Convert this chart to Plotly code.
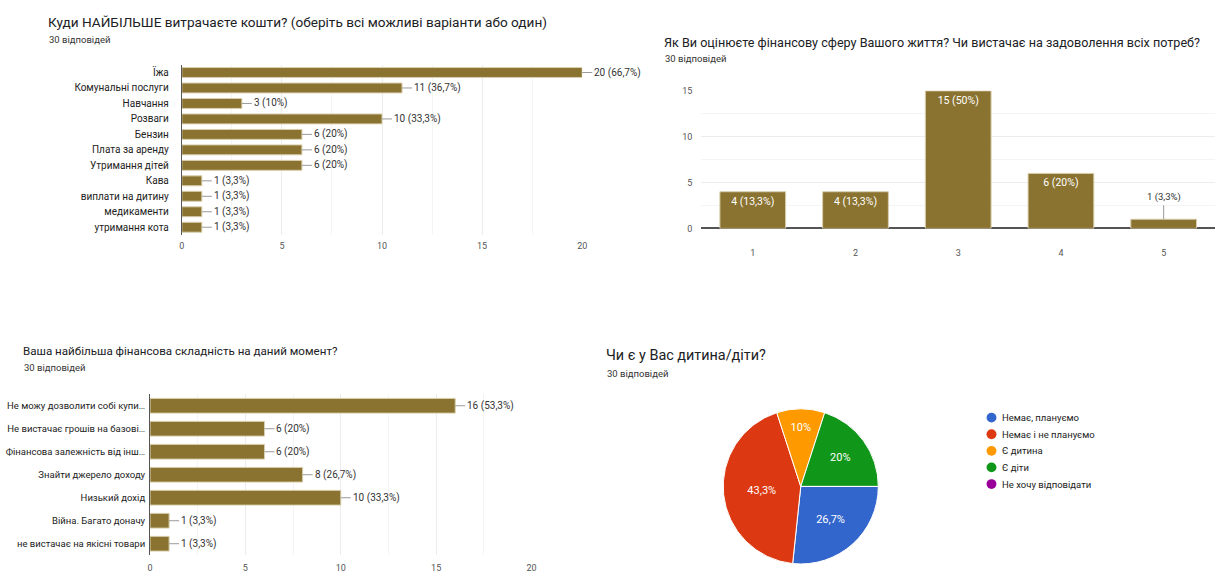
import plotly.graph_objects as go

W, H = 1224, 573
FONT = "Roboto"
BAR = "#8a7330"
BAR_EDGE = "#d9cfae"
TOTAL = 30

# ---- data ----
spend_cats = ["Їжа", "Комунальні послуги", "Навчання", "Розваги", "Бензин", "Плата за аренду",
              "Утримання дітей", "Кава", "виплати на дитину", "медикаменти", "утримання кота"]
spend_vals = [20, 11, 3, 10, 6, 6, 6, 1, 1, 1, 1]

rate_cats = ["1", "2", "3", "4", "5"]
rate_vals = [4, 4, 15, 6, 1]

diff_cats = ["Не можу дозволити собі купи…", "Не вистачає грошів на базові…", "Фінансова залежність від інш…",
             "Знайти джерело доходу", "Низький дохід", "Війна. Багато доначу", "не вистачає на якісні товари"]
diff_vals = [16, 6, 6, 8, 10, 1, 1]

kids_labels = ["Немає, плануємо", "Немає і не плануємо", "Є дитина", "Є діти", "Не хочу відповідати"]
kids_vals = [8, 13, 3, 6, 0]
kids_colors = ["#3366cc", "#dc3912", "#ff9900", "#109618", "#990099"]


def pct(v):
    p = round(v / TOTAL * 100, 1)
    s = f"{p:.1f}".rstrip("0").rstrip(".")
    return s.replace(".", ",")


def lab(v):
    return f"{v} ({pct(v)}%)"


def px(x):
    return x / W


def py(y):
    return 1 - y / H


fig = go.Figure()

# chart 1
fig.add_trace(go.Bar(x=spend_vals, y=spend_cats, orientation="h", xaxis="x", yaxis="y",
                     marker=dict(color=BAR, line=dict(color=BAR_EDGE, width=1)), showlegend=False,
                     hoverinfo="x+y"))
# chart 2
fig.add_trace(go.Bar(x=rate_cats, y=rate_vals, xaxis="x2", yaxis="y2",
                     marker=dict(color=BAR, line=dict(color=BAR_EDGE, width=1)), showlegend=False,
                     text=[lab(v) if v > 2 else "" for v in rate_vals], textposition="inside",
                     insidetextanchor="end", textangle=0,
                     textfont=dict(color="white", size=10.5, family=FONT), hoverinfo="x+y"))
# chart 3
fig.add_trace(go.Bar(x=diff_vals, y=diff_cats, orientation="h", xaxis="x3", yaxis="y3",
                     marker=dict(color=BAR, line=dict(color=BAR_EDGE, width=1)), showlegend=False,
                     hoverinfo="x+y"))
# chart 4
fig.add_trace(go.Pie(labels=kids_labels, values=kids_vals, sort=False, direction="clockwise", rotation=90,
                     marker=dict(colors=kids_colors, line=dict(color="white", width=1)),
                     text=[pct(v) + "%" for v in kids_vals], textinfo="text", textposition="inside",
                     insidetextorientation="horizontal",
                     textfont=dict(color="white", size=11, family=FONT), showlegend=False,
                     domain=dict(x=[px(721), px(885)], y=[0, py(414)])))

grid = "#ececec"
minor = dict(showgrid=True, gridcolor="#f4f4f4", dtick=2.5)
tickf = dict(family=FONT, size=9, color="#555")

fig.update_layout(
    width=W, height=H, margin=dict(l=0, r=0, t=0, b=0),
    paper_bgcolor="white", plot_bgcolor="white", bargap=0.36,
    font=dict(family=FONT),
    xaxis=dict(domain=[px(180), px(583)], range=[0, 20], dtick=5, gridcolor=grid, minor=minor,
               zeroline=False, tickfont=tickf, anchor="y", ticklabelstandoff=4),
    yaxis=dict(domain=[py(236), py(61)], autorange="reversed",
               tickfont=dict(family=FONT, size=10, color="#222"), showline=True,
               linecolor="#555", linewidth=1, anchor="x", ticklabelstandoff=10),
    xaxis2=dict(domain=[px(703), px(1220)], type="category", range=[-0.5, len(rate_cats) - 0.5],
                tickfont=tickf, showline=False, anchor="y2", ticklabelstandoff=18),
    yaxis2=dict(domain=[py(229), py(88)], range=[0, 15], dtick=5, gridcolor=grid, minor=minor,
                zeroline=True, zerolinecolor="#555", zerolinewidth=1.5, tickfont=tickf, anchor="x2",
                ticklabelstandoff=8),
    xaxis3=dict(domain=[px(148), px(532)], range=[0, 20], dtick=5, gridcolor=grid, minor=minor,
                zeroline=False, tickfont=tickf, anchor="y3", ticklabelstandoff=6),
    yaxis3=dict(domain=[py(564), py(399)], autorange="reversed",
                tickfont=dict(family=FONT, size=9.5, color="#222"), showline=True,
                linecolor="#555", linewidth=1, anchor="x3", ticklabelstandoff=2),
)

ann = []
# leader-line labels for horizontal bars
for cats, vals, xr, yr in [(spend_cats, spend_vals, "x", "y"), (diff_cats, diff_vals, "x3", "y3")]:
    for c, v in zip(cats, vals):
        ann.append(dict(x=v, y=c, xref=xr, yref=yr, text=lab(v), showarrow=True, arrowhead=0,
                        arrowwidth=1, arrowcolor="#9a9a9a", ax=10, ay=0,
                        xanchor="left", font=dict(family=FONT, size=10, color="#333")))
# small column label above
for i, (c, v) in enumerate(zip(rate_cats, rate_vals)):
    if v <= 2:
        ann.append(dict(x=i, y=v, xref="x2", yref="y2", text=lab(v), showarrow=True, arrowhead=0,
                        arrowwidth=1, arrowcolor="#9a9a9a", ax=0, ay=-14, yanchor="bottom",
                        font=dict(family=FONT, size=9.5, color="#333")))

# titles
titles = [
    ("Куди НАЙБІЛЬШЕ витрачаєте кошти? (оберіть всі можливі варіанти або один)", 43, 17, 13.6),
    ("Як Ви оцінюєте фінансову сферу Вашого життя? Чи вистачає на задоволення всіх потреб?", 663, 38, 12.6),
    ("Ваша найбільша фінансова складність на даний момент?", 18, 355, 11.6),
    ("Чи є у Вас дитина/діти?", 605, 359, 14.4),
]
subs = [(44, 35), (664, 55), (19, 372), (606, 378)]
for (t, x, y, s), (sx, sy) in zip(titles, subs):
    ann.append(dict(text=t, x=px(x), y=py(y), xref="paper", yref="paper", xanchor="left", yanchor="middle",
                    showarrow=False, font=dict(family=FONT, size=s, color="#202124")))
    ann.append(dict(text="30 відповідей", x=px(sx), y=py(sy), xref="paper", yref="paper", xanchor="left",
                    yanchor="middle", showarrow=False, font=dict(family=FONT, size=9.5, color="#333")))

# custom legend for the pie (round markers)
shapes = []
for i, (l, col) in enumerate(zip(kids_labels, kids_colors)):
    yc = 423 + i * 17
    shapes.append(dict(type="circle", xref="paper", yref="paper", x0=px(990), x1=px(1000),
                       y0=py(yc + 5), y1=py(yc - 5), fillcolor=col, line=dict(width=0)))
    ann.append(dict(text=l, x=px(1004), y=py(yc), xref="paper", yref="paper", xanchor="left",
                    yanchor="middle", showarrow=False, font=dict(family=FONT, size=9.5, color="#222")))

fig.update_layout(annotations=ann, shapes=shapes)
fig.write_html("out.html", config={"displayModeBar": False},
               post_script="document.body.style.margin='0';document.body.style.overflow='hidden';")
